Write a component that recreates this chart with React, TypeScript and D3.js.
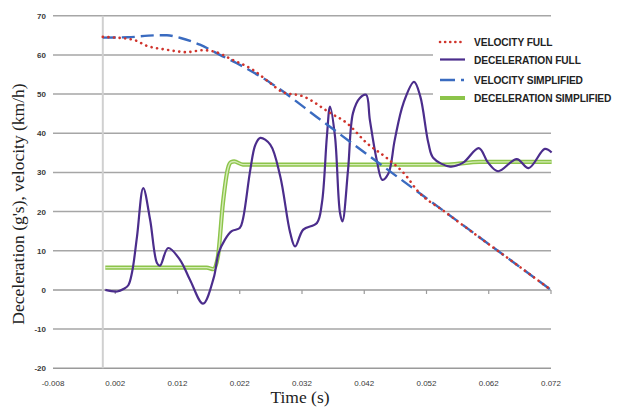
import React from "react";
import * as d3 from "d3";

const W = 624;
const H = 408;

// Tick values
const xTicks = [-0.008, 0.002, 0.012, 0.022, 0.032, 0.042, 0.052, 0.062, 0.072];
const yTicks = [-20, -10, 0, 10, 20, 30, 40, 50, 60, 70];

// Series: [time (s), value]
const velocityFull: [number, number][] = [
  [0, 64.6], [0.0048, 63.9], [0.0071, 62.3], [0.0103, 61.3], [0.0135, 60.7],
  [0.0161, 61.2], [0.018, 60.8], [0.0209, 58.7], [0.0241, 56.2], [0.0269, 52.8],
  [0.0289, 50.5], [0.0322, 49.4], [0.0365, 45.2], [0.0392, 42.6], [0.0424, 37.5],
  [0.0456, 33.7], [0.0488, 29.0], [0.0504, 25.6], [0.055, 19.9], [0.06, 14.0],
  [0.065, 8.2], [0.072, 0],
];

const velocitySimplified: [number, number][] = [
  [0, 64.4], [0.004, 64.5], [0.0087, 65.0], [0.0103, 65.0], [0.0125, 64.3],
  [0.0156, 62.6], [0.0188, 60.0], [0.0216, 57.8], [0.0269, 52.9], [0.035, 43.4],
  [0.045, 31.6], [0.055, 19.9], [0.065, 8.2], [0.072, 0],
];

const decelerationFull: [number, number][] = [
  [0.0004, 0], [0.0023, -0.4], [0.0034, 0.3], [0.0041, 1.2], [0.0047, 4.5],
  [0.0055, 13.7], [0.0065, 26.0], [0.0076, 17.9], [0.0087, 6.9], [0.0092, 6.2],
  [0.0105, 10.7], [0.0124, 7.7], [0.014, 2.6], [0.0161, -3.5], [0.0178, 3.0],
  [0.0186, 9.4], [0.0196, 12.8], [0.0207, 15.0], [0.022, 15.8], [0.0225, 18.0],
  [0.0237, 30.7], [0.0245, 37.0], [0.0253, 38.8], [0.0269, 37.1], [0.0285, 29.0],
  [0.0301, 14.6], [0.0309, 11.1], [0.0322, 15.4], [0.0344, 17.1], [0.0352, 22.2],
  [0.036, 39.2], [0.0365, 46.8], [0.0373, 39.2], [0.0381, 19.7], [0.0385, 17.5],
  [0.0394, 30.7], [0.0402, 45.2], [0.0413, 49.0], [0.0423, 49.8], [0.0429, 43.4],
  [0.044, 33.2], [0.0449, 28.1], [0.0459, 29.8], [0.0469, 38.3], [0.0483, 47.7],
  [0.05, 53.1], [0.051, 49.4], [0.0523, 37.5], [0.0531, 33.7], [0.0558, 31.5],
  [0.0579, 32.5], [0.0604, 36.2], [0.0619, 32.5], [0.0635, 30.3], [0.0665, 33.4],
  [0.0684, 31.1], [0.071, 36.0], [0.0721, 35.1],
];

const decelerationSimplified: [number, number][] = [
  [0.0004, 5.7], [0.0167, 5.7], [0.0178, 5.3], [0.0185, 8.6], [0.0193, 22.2],
  [0.0201, 31.0], [0.0206, 32.6], [0.0211, 32.8], [0.0225, 32.0], [0.0555, 32.0],
  [0.0605, 32.7], [0.0721, 32.7],
];

const legendLabels = [
  "VELOCITY FULL",
  "DECELERATION FULL",
  "VELOCITY SIMPLIFIED",
  "DECELERATION SIMPLIFIED",
];

const x = d3.scaleLinear().domain([-0.008, 0.072]).range([53, 551]);
const y = d3.scaleLinear().domain([-20, 70]).range([368.3, 15.7]);

const lineSmooth = d3
  .line<[number, number]>()
  .x((d) => x(d[0]))
  .y((d) => y(d[1]))
  .curve(d3.curveCatmullRom.alpha(0.5));

const lineMono = d3
  .line<[number, number]>()
  .x((d) => x(d[0]))
  .y((d) => y(d[1]))
  .curve(d3.curveMonotoneX);

const RED = "#d0342c";
const PURPLE = "#4b2d8c";
const BLUE = "#3a6bc0";
const GREEN = "#8cc44a";
const GREEN_IN = "#d6ecb8";
const GRID = "#a6a6a6";

export default function App() {
  const legendX = 440;
  const legendYs = [42, 59.5, 80, 98];
  return (
    <svg
      width={W}
      height={H}
      style={{ position: "absolute", left: 0, top: 0, background: "#fff" }}
      fontFamily="'Liberation Sans', Arial, sans-serif"
    >
      <rect x={0} y={0} width={W} height={H} fill="#fff" />
      {yTicks.map((t) => (
        <line
          key={"g" + t}
          x1={x(-0.008)}
          x2={x(0.072)}
          y1={y(t)}
          y2={y(t)}
          stroke={t === 0 || t === -20 ? "#9a9a9a" : GRID}
          strokeWidth={1.5}
        />
      ))}
      <line x1={x(0)} x2={x(0)} y1={y(70)} y2={y(-20)} stroke="#d0d0d0" strokeWidth={2} />
      {xTicks.slice(1).map((t) => (
        <line key={"tm" + t} x1={x(t)} x2={x(t)} y1={y(0)} y2={y(0) + 4} stroke="#9a9a9a" strokeWidth={1.2} />
      ))}
      {yTicks.map((t) => (
        <text
          key={"yl" + t}
          x={46}
          y={y(t) + 3}
          textAnchor="end"
          fontSize={8}
          fontWeight="bold"
          fill="#3a3a3a"
        >
          {t}
        </text>
      ))}
      {xTicks.map((t) => (
        <text
          key={"xl" + t}
          x={x(t)}
          y={386}
          textAnchor="middle"
          fontSize={8}
          fill="#3a3a3a"
        >
          {t.toFixed(3)}
        </text>
      ))}
      <rect x={433} y={28} width={191} height={80} fill="#fff" />
      <path d={lineMono(decelerationSimplified) || ""} fill="none" stroke={GREEN} strokeWidth={4.2} />
      <path d={lineMono(decelerationSimplified) || ""} fill="none" stroke={GREEN_IN} strokeWidth={1.4} />
      <path d={lineSmooth(decelerationFull) || ""} fill="none" stroke={PURPLE} strokeWidth={2.2} />
      <path
        d={lineMono(velocitySimplified) || ""}
        fill="none"
        stroke={BLUE}
        strokeWidth={2.4}
        strokeDasharray="13 6"
      />
      <path
        d={lineMono(velocityFull) || ""}
        fill="none"
        stroke={RED}
        strokeWidth={2.6}
        strokeDasharray="0.1 5.5"
        strokeLinecap="round"
      />
      <line x1={legendX} x2={legendX + 25} y1={legendYs[0]} y2={legendYs[0]} stroke={RED} strokeWidth={2.6} strokeDasharray="0.1 5" strokeLinecap="round" />
      <line x1={legendX} x2={legendX + 25} y1={legendYs[1]} y2={legendYs[1]} stroke={PURPLE} strokeWidth={2.2} />
      <line x1={legendX} x2={legendX + 25} y1={legendYs[2]} y2={legendYs[2]} stroke={BLUE} strokeWidth={2.4} strokeDasharray="15 6 3 6" />
      <line x1={legendX} x2={legendX + 25} y1={legendYs[3]} y2={legendYs[3]} stroke={GREEN} strokeWidth={4} />
      {legendLabels.map((l, i) => (
        <text key={l} x={474} y={legendYs[i] + 4} fontSize={10.2} fontWeight="bold" fill="#222" letterSpacing={-0.1}>
          {l}
        </text>
      ))}
      <text
        transform={`translate(24,${(y(70) + y(-20)) / 2 + 12}) rotate(-90)`}
        textAnchor="middle"
        fontFamily="'Liberation Serif', 'Times New Roman', serif"
        fontSize={17.5}
        fill="#222"
      >
        Deceleration (g's), velocity (km/h)
      </text>
      <text
        x={300}
        y={403}
        textAnchor="middle"
        fontFamily="'Liberation Serif', 'Times New Roman', serif"
        fontSize={17.5}
        fill="#222"
      >
        Time (s)
      </text>
    </svg>
  );
}
